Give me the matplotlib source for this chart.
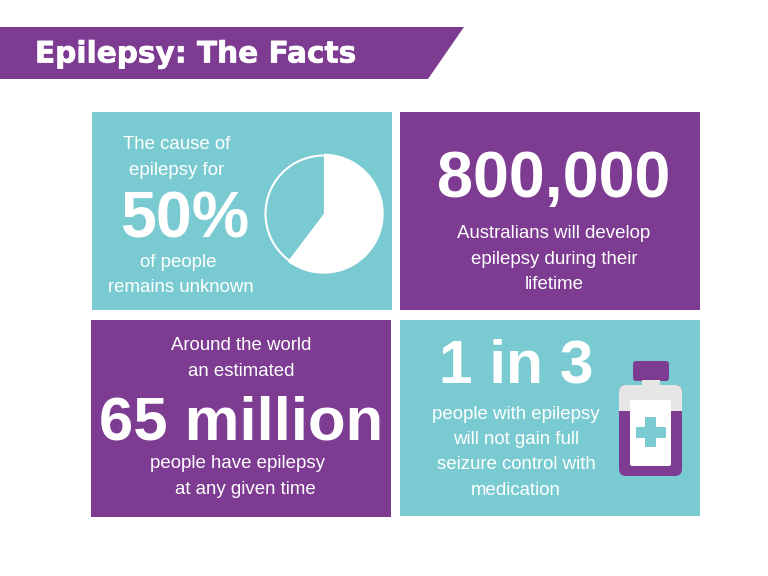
import matplotlib.pyplot as plt
import matplotlib.patheffects as path_effects
from matplotlib.patches import Circle, FancyBboxPatch, Polygon, Rectangle


# Colours and font of the infographic.
purple = '#7D3C92'
teal = '#7ACBD1'
grey = '#E6E6E6'
plt.rcParams['font.family'] = 'Liberation Sans'

# Values of the pie chart (white part first).
pie_values = [60.3, 39.7]

# Panels: left, top, right, bottom, colour.
panels = [[92, 112, 392, 310, teal],
          [400, 112, 700, 310, purple],
          [91, 320, 391, 517, purple],
          [400, 320, 700, 516, teal]]

# Texts: x, y, text, size in points, weight.
texts = [[177, 144.5, 'The cause of', 13.4, 'normal'],
         [177, 170.5, 'epilepsy for', 13.4, 'normal'],
         [185, 221, '50%', 46.5, 'bold'],
         [178, 262.5, 'of people', 13.4, 'normal'],
         [181, 287.5, 'remains unknown', 13.4, 'normal'],
         [554, 180, '800,000', 46.6, 'bold'],
         [554, 233.5, 'Australians will develop', 13.4, 'normal'],
         [554, 259.5, 'epilepsy during their', 13.4, 'normal'],
         [554, 284.5, 'lifetime', 13.4, 'normal'],
         [241, 345.5, 'Around the world', 13.4, 'normal'],
         [241, 371.5, 'an estimated', 13.4, 'normal'],
         [241, 424, '65 million', 44.4, 'bold'],
         [238, 463.5, 'people have epilepsy', 13.4, 'normal'],
         [245, 489.5, 'at any given time', 13.4, 'normal'],
         [516, 367, '1 in 3', 43.6, 'bold'],
         [516, 414.5, 'people with epilepsy', 13.4, 'normal'],
         [516, 439.5, 'will not gain full', 13.4, 'normal'],
         [516, 464.5, 'seizure control with', 13.4, 'normal'],
         [516, 490.5, 'medication', 13.4, 'normal']]

# Make the page with one axes in pixels.
fig = plt.figure(figsize=(7.68, 5.76), dpi=100)
ax = fig.add_axes([0, 0, 1, 1])
ax.set_xlim(0, 768)
ax.set_ylim(576, 0)
ax.axis('off')

# Title banner.
ax.add_patch(Polygon([[0, 27], [464, 27], [428, 79], [0, 79]], color=purple, lw=0))
title = ax.text(35, 54, 'Epilepsy: The Facts', color='white', fontsize=21.3, fontweight='bold',
                family='DejaVu Sans', va='center', ha='left')
title.set_path_effects([path_effects.withStroke(linewidth=0.5, foreground='white')])

# Draw the panels.
for left, top, right, bottom, colour in panels:
    ax.add_patch(Rectangle((left, top), right - left, bottom - top, color=colour, lw=0))

# Draw the texts.
for x, y, label, size, weight in texts:
    ax.text(x, y, label, color='white', fontsize=size, fontweight=weight, ha='center', va='center')

# Medicine bottle.
ax.add_patch(FancyBboxPatch((635, 363), 32, 16, boxstyle='round,pad=2,rounding_size=3', color=purple, lw=0))
ax.add_patch(Rectangle((642, 380), 18, 6, color=grey, lw=0))
ax.add_patch(FancyBboxPatch((625, 391), 51, 79, boxstyle='round,pad=6,rounding_size=7', color=purple, lw=0))
bottle_top = FancyBboxPatch((625, 391), 51, 79, boxstyle='round,pad=6,rounding_size=7', color=grey, lw=0)
ax.add_patch(bottle_top)
bottle_top.set_clip_path(Rectangle((610, 380), 80, 31, transform=ax.transData))
ax.add_patch(FancyBboxPatch((632, 402), 37, 62, boxstyle='round,pad=2,rounding_size=2', color='white', lw=0))
ax.add_patch(FancyBboxPatch((637, 428), 28, 9, boxstyle='round,pad=1,rounding_size=1', color=teal, lw=0))
ax.add_patch(FancyBboxPatch((646, 418), 9, 28, boxstyle='round,pad=1,rounding_size=1', color=teal, lw=0))

# Pie chart in its own axes.
ax_pie = fig.add_axes([(323.7 - 60) / 768, 1 - (213.7 + 60) / 576, 120 / 768, 120 / 576])
ax_pie.pie(pie_values, colors=['white', teal], startangle=90, counterclock=False, radius=1)
ax_pie.add_patch(Circle((0, 0), 0.97, fill=False, edgecolor='white', lw=1.5))
ax_pie.set_xlim(-1, 1)
ax_pie.set_ylim(-1, 1)

plt.savefig('out.png', dpi=100)
plt.close(fig)
